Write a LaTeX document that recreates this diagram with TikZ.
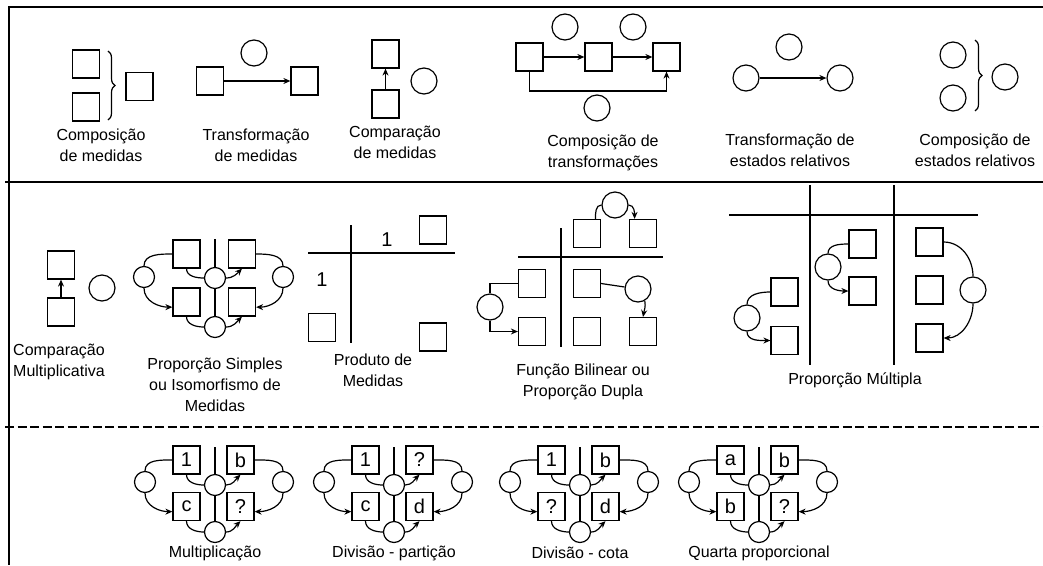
\documentclass[tikz,border=0pt]{standalone}
\usepackage{fontspec}
\setmainfont{Liberation Sans}
\usetikzlibrary{arrows.meta, decorations.pathreplacing}

\begin{document}
\begin{tikzpicture} [x=1pt, y=1pt,
            line width=1.2pt,
            box/.style={draw, minimum width=27pt, minimum height=28pt,
                inner sep=0pt, font=\fontsize{20}{20}\selectfont},
            ring/.style={draw, circle, minimum size=26pt, inner sep=0pt},
            sring/.style={draw, circle, minimum size=21pt, inner sep=0pt},
            lbl/.style={align=center, font=\fontsize{16}{21}\selectfont},
            num/.style={font=\fontsize{20}{20}\selectfont},
            arr/.style={-{Stealth[length=7pt, width=6pt]}},
            brc/.style={decorate, decoration={brace, amplitude=7pt}}]

        % Frame
        \useasboundingbox (0,0) rectangle (1043,-565);
        \draw [line width=1.6pt] (1043,-7) -- (9,-7) -- (9,-565);
        \draw [line width=1.3pt] (5,-182) -- (1043,-182);
        \draw [line width=1.3pt, dash pattern=on 9pt off 3.5pt] (5,-427) -- (1043,-427);

        % Composicao de medidas
        \node (cm1) [box] at (86,-64) {};
        \node (cm2) [box] at (86,-107) {};
        \node (cm3) [box] at (139.5,-86.5) {};
        \coordinate (cm-up) at (108,-51);
        \coordinate (cm-dn) at (108,-120);
        \draw [brc] (cm-up) -- (cm-dn);
        \node (cm-txt) [lbl] at (101,-145) {Composição\\de medidas};

        % Transformacao de medidas
        \node (tm1) [box] at (210,-81) {};
        \node (tm2) [box] at (304.5,-81) {};
        \node (tm-op) [ring] at (254,-53) {};
        \draw [arr] (tm1) -- (tm2);
        \node (tm-txt) [lbl] at (256,-145) {Transformação\\de medidas};

        % Comparacao de medidas
        \node (cp1) [box] at (385.5,-54) {};
        \node (cp2) [box] at (385.5,-104) {};
        \node (cp-op) [ring] at (424,-81) {};
        \draw [arr] (cp2) -- (cp1);
        \node (cp-txt) [lbl] at (395,-142) {Comparação\\de medidas};

        % Composicao de transformacoes
        \node (ct1) [box] at (529.5,-57) {};
        \node (ct2) [box] at (598.5,-57) {};
        \node (ct3) [box] at (666.5,-57) {};
        \node (ct-op1) [ring] at (565,-27) {};
        \node (ct-op2) [ring] at (633,-27) {};
        \node (ct-op3) [ring] at (597,-108) {};
        \coordinate (ct-low) at (598,-91);
        \draw [arr] (ct1) -- (ct2);
        \draw [arr] (ct2) -- (ct3);
        \draw [arr] (ct1.south) |- (ct-low) -| (ct3.south);
        \node (ct-txt) [lbl] at (603,-153) {Composição de\\transformações};

        % Transformacao de estados relativos
        \node (te1) [ring] at (746,-78) {};
        \node (te2) [ring] at (840,-78) {};
        \node (te-op) [ring] at (789,-47) {};
        \draw [arr] (te1) -- (te2);
        \node (te-txt) [lbl] at (790,-150) {Transformação de\\estados relativos};

        % Composicao de estados relativos
        \node (ce1) [ring] at (953,-55) {};
        \node (ce2) [ring] at (953,-98) {};
        \node (ce3) [ring] at (1005,-77) {};
        \coordinate (ce-up) at (975,-40);
        \coordinate (ce-dn) at (975,-111);
        \draw [brc] (ce-up) -- (ce-dn);
        \node (ce-txt) [lbl] at (975,-150) {Composição de\\estados relativos};

        % Comparacao multiplicativa
        \node (mc1) [box] at (61,-265) {};
        \node (mc2) [box] at (61,-312) {};
        \node (mc-op) [ring] at (102,-288) {};
        \draw [arr] (mc2) -- (mc1);
        \node (mc-txt) [lbl] at (59,-362) {Comparação\\Multiplicativa};

        % Proporcao simples
        \node (ps-tl) [box] at (186.5,-254) {};
        \node (ps-tr) [box] at (242,-254) {};
        \node (ps-bl) [box] at (186.5,-302) {};
        \node (ps-br) [box] at (242,-302) {};
        \node (ps-m) [sring] at (215,-278) {};
        \node (ps-b) [sring] at (215,-327) {};
        \node (ps-l) [sring] at (144,-277) {};
        \node (ps-r) [sring] at (283,-277) {};
        \coordinate (ps-top) at (215,-239);
        \draw (ps-top) -- (ps-m);
        \draw (ps-m) -- (ps-b);
        \draw (ps-l.north) to [out=90, in=180] (ps-tl.west);
        \draw [arr] (ps-l.south) to [out=-90, in=180] (ps-bl.200);
        \draw (ps-tr.east) to [out=0, in=90] (ps-r.north);
        \draw [arr] (ps-r.south) to [out=-90, in=0] (ps-br.-20);
        \draw (ps-tl.south) to [out=-90, in=180] (ps-m.west);
        \draw [arr] (ps-m.east) to [out=0, in=-135] (ps-tr.south);
        \draw (ps-bl.south) to [out=-90, in=180] (ps-b.west);
        \draw [arr] (ps-b.east) to [out=0, in=-135] (ps-br.south);
        \node (ps-txt) [lbl] at (215,-385) {Proporção Simples\\ou Isomorfismo de\\Medidas};

        % Produto de medidas
        \coordinate (pd-w) at (308,-253);
        \coordinate (pd-e) at (455,-253);
        \coordinate (pd-n) at (351,-225);
        \coordinate (pd-s) at (351,-343);
        \draw (pd-w) -- (pd-e);
        \draw (pd-n) -- (pd-s);
        \node (pd-one1) [num] at (387,-239.5) {1};
        \node (pd-one2) [num] at (322,-280) {1};
        \node (pd1) [box] at (433,-230) {};
        \node (pd2) [box] at (322,-327.5) {};
        \node (pd3) [box] at (433,-337) {};
        \node (pd-txt) [lbl] at (373,-370) {Produto de\\Medidas};

        % Funcao bilinear
        \coordinate (fb-w) at (518,-257);
        \coordinate (fb-e) at (663,-257);
        \coordinate (fb-n) at (561,-228);
        \coordinate (fb-s) at (561,-347);
        \draw (fb-w) -- (fb-e);
        \draw (fb-n) -- (fb-s);
        \node (fb-t1) [box] at (587,-233.5) {};
        \node (fb-t2) [box] at (643,-233.5) {};
        \node (fb-l1) [box] at (532,-283.5) {};
        \node (fb-l2) [box] at (532,-331.5) {};
        \node (fb-m1) [box] at (587,-283.5) {};
        \node (fb-m2) [box] at (587,-331.5) {};
        \node (fb-r2) [box] at (643,-331.5) {};
        \node (fb-ct) [ring] at (615,-205) {};
        \node (fb-cl) [ring] at (490,-307) {};
        \node (fb-cr) [ring] at (638,-289) {};
        \draw (fb-t1.60) to [out=90, in=180] (fb-ct.west);
        \draw [arr] (fb-ct.east) to [out=0, in=90] (fb-t2.120);
        \draw (fb-l1.west) -| (fb-cl.north);
        \draw [arr] (fb-cl.south) |- (fb-l2.west);
        \draw (fb-m1.east) -- (fb-cr);
        \draw [arr] (fb-cr.-60) to [out=-80, in=80] (fb-r2.north);
        \node (fb-txt) [lbl] at (583,-382) {Função Bilinear ou\\Proporção Dupla};

        % Proporcao multipla
        \coordinate (pm-w) at (729,-215);
        \coordinate (pm-e) at (978,-215);
        \coordinate (pm-n1) at (810,-185);
        \coordinate (pm-s1) at (810,-365);
        \coordinate (pm-n2) at (894,-185);
        \coordinate (pm-s2) at (894,-365);
        \draw (pm-w) -- (pm-e);
        \draw (pm-n1) -- (pm-s1);
        \draw (pm-n2) -- (pm-s2);
        \node (pm-a1) [box] at (784.5,-292) {};
        \node (pm-a2) [box] at (784.5,-340.5) {};
        \node (pm-b1) [box] at (862.5,-244) {};
        \node (pm-b2) [box] at (862.5,-291) {};
        \node (pm-c1) [box] at (929.5,-242) {};
        \node (pm-c2) [box] at (929.5,-290) {};
        \node (pm-c3) [box] at (929.5,-338) {};
        \node (pm-ca) [ring] at (747,-318) {};
        \node (pm-cb) [ring] at (828,-267) {};
        \node (pm-cc) [ring] at (973,-290) {};
        \draw (pm-a1.west) to [out=180, in=90] (pm-ca.north);
        \draw [arr] (pm-ca.south) to [out=-90, in=180] (pm-a2.west);
        \draw (pm-b1.west) to [out=180, in=90] (pm-cb.north);
        \draw [arr] (pm-cb.south) to [out=-90, in=180] (pm-b2.west);
        \draw (pm-c1.east) to [out=0, in=90] (pm-cc.north);
        \draw [arr] (pm-cc.south) to [out=-90, in=0] (pm-c3.east);
        \node (pm-txt) [lbl] at (855,-380) {Proporção Múltipla};

        % Problemas: multiplicacao, divisao, quarta proporcional
        \foreach \cx/\n/\a/\b/\c/\d/\t in
            {215/mu/1/b/c/?/Multiplicação,
             394/dp/1/?/c/d/Divisão - partição,
             580/dc/1/b/?/d/Divisão - cota,
             759/qp/a/b/b/?/Quarta proporcional} {
            \node (\n-tl) [box] at (\cx-28.5,-460) {\a};
            \node (\n-tr) [box] at (\cx+25.5,-460) {\b};
            \node (\n-bl) [box] at (\cx-28.5,-506.5) {\c};
            \node (\n-br) [box] at (\cx+25.5,-506.5) {\d};
            \node (\n-m) [sring] at (\cx,-485) {};
            \node (\n-b) [sring] at (\cx,-532) {};
            \node (\n-l) [sring] at (\cx-70,-482) {};
            \node (\n-r) [sring] at (\cx+68,-482) {};
            \coordinate (\n-top) at (\cx,-447);
            \draw (\n-top) -- (\n-m);
            \draw (\n-m) -- (\n-b);
            \draw (\n-l.north) to [out=90, in=180] (\n-tl.west);
            \draw [arr] (\n-l.south) to [out=-90, in=180] (\n-bl.200);
            \draw (\n-tr.east) to [out=0, in=90] (\n-r.north);
            \draw [arr] (\n-r.south) to [out=-90, in=0] (\n-br.-20);
            \draw (\n-tl.south) to [out=-90, in=180] (\n-m.west);
            \draw [arr] (\n-m.east) to [out=0, in=-135] (\n-tr.south);
            \draw (\n-bl.south) to [out=-90, in=180] (\n-b.west);
            \draw [arr] (\n-b.east) to [out=0, in=-135] (\n-br.south);
            \node (\n-txt) [lbl] at (\cx,-553) {\t};
        }
\end{tikzpicture}
\end{document}
